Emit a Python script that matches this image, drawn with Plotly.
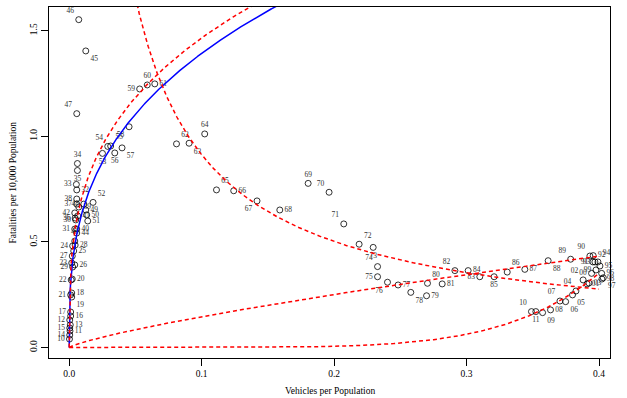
import numpy as np
import plotly.graph_objects as go

# ---------------- data ----------------
years = list(range(1910, 2012))
vehicles_per_pop = [
    0.0002, 0.0006, 0.0004, 0.0008, 0.0004, 0.0004, 0.0011, 0.0011, 0.0019, 0.0019,  # 1910-19
    0.0023, 0.0011, 0.0015, 0.0019, 0.0026, 0.0034, 0.0042, 0.0023, 0.0045, 0.0026,  # 1920-29
    0.0049, 0.0042, 0.0057, 0.0054, 0.0062, 0.0062, 0.0045, 0.0057, 0.0057, 0.0072,  # 1930-39
    0.0057, 0.0064, 0.0042, 0.0042, 0.0057, 0.0125, 0.0072, 0.0057, 0.0110, 0.0125,  # 1940-49
    0.0132, 0.0140, 0.0180, 0.0251, 0.0291, 0.0313, 0.0344, 0.0399, 0.0452, 0.0532,  # 1950-59
    0.0589, 0.0646, 0.0810, 0.0905, 0.1023, 0.1112, 0.1242, 0.1418, 0.1590, 0.1804,  # 1960-69
    0.1962, 0.2073, 0.2189, 0.2295, 0.2328, 0.2328, 0.2403, 0.2483, 0.2579, 0.2698,  # 1970-79
    0.2705, 0.2816, 0.2912, 0.3100, 0.3012, 0.3208, 0.3307, 0.3440, 0.3616, 0.3786,  # 1980-89
    0.3931, 0.3954, 0.3956, 0.3969, 0.3992, 0.4007, 0.4020, 0.4032, 0.4022, 0.3977,  # 1990-99
    0.3944, 0.3910, 0.3880, 0.3924, 0.3826, 0.3800, 0.3748, 0.3705, 0.3634, 0.3574,  # 2000-09
    0.3490, 0.3523,                                                                    # 2010-11
]
fatalities_per_10k = [
    0.040, 0.078, 0.130, 0.107, 0.059, 0.092, 0.149, 0.168, 0.258, 0.239,
    0.324, 0.249, 0.320, 0.400, 0.481, 0.457, 0.391, 0.433, 0.485, 0.381,
    0.604, 0.561, 0.746, 0.772, 0.871, 0.838, 0.613, 0.679, 0.703, 0.665,
    0.561, 0.623, 0.637, 0.504, 0.542, 1.404, 1.552, 1.107, 0.679, 0.651,
    0.628, 0.599, 0.687, 0.919, 0.952, 0.954, 0.921, 0.945, 1.045, 1.224,
    1.243, 1.248, 0.964, 0.967, 1.011, 0.746, 0.742, 0.694, 0.651, 0.777,
    0.735, 0.585, 0.489, 0.474, 0.383, 0.335, 0.309, 0.296, 0.261, 0.245,
    0.304, 0.301, 0.364, 0.335, 0.364, 0.335, 0.357, 0.370, 0.411, 0.418,
    0.433, 0.405, 0.435, 0.405, 0.405, 0.386, 0.351, 0.330, 0.324, 0.367,
    0.351, 0.301, 0.320, 0.305, 0.2675, 0.249, 0.217, 0.220, 0.178, 0.165,
    0.170, 0.170,
]
year_labels = [f"{y % 100:02d}" for y in years]

x_ticks = [0.0, 0.1, 0.2, 0.3, 0.4]
x_tick_labels = ["0.0", "0.1", "0.2", "0.3", "0.4"]
y_ticks = [0.0, 0.5, 1.0, 1.5]
y_tick_labels = ["0.0", "0.5", "1.0", "1.5"]

# model curves  y = a * x ** b
smeed_a, smeed_b = 3.0, 1.0 / 3.0
fitted_curves = [(2.976, 0.3076), (0.1254, -0.862), (0.888, 0.785), (85.8, 6.0)]

# ---------------- label placement (style) ----------------
pos_map = {
    1910: "middle left", 1911: "middle right", 1912: "middle left", 1913: "middle right",
    1914: "middle left", 1915: "middle left", 1916: "middle right", 1917: "middle left",
    1918: "middle right", 1919: "bottom right", 1920: "middle right", 1921: "middle left",
    1922: "middle left", 1923: "middle left", 1924: "middle left", 1925: "middle right",
    1926: "middle right", 1927: "middle left", 1928: "middle right", 1929: "middle left",
    1930: "middle left", 1931: "middle left", 1932: "middle right", 1933: "middle left",
    1934: "top center", 1935: "bottom center", 1936: "middle left", 1937: "middle left",
    1938: "middle left", 1939: "middle right", 1940: "middle right", 1941: "middle right",
    1942: "middle left", 1943: "top center", 1944: "middle right", 1945: "bottom right",
    1946: "top left", 1947: "top left", 1948: "middle left", 1949: "middle right",
    1950: "middle right", 1951: "middle right", 1952: "top right", 1953: "bottom center",
    1954: "top left", 1955: "top right", 1956: "bottom center", 1957: "bottom right",
    1958: "bottom left", 1959: "middle left", 1960: "top center", 1961: "middle right",
    1962: "top right", 1963: "bottom right", 1964: "top center", 1965: "top right",
    1966: "middle right", 1967: "bottom left", 1968: "middle right", 1969: "top center",
    1970: "top left", 1971: "top left", 1972: "top right", 1973: "bottom center",
    1974: "top left", 1975: "middle left", 1976: "bottom left", 1977: "middle right",
    1978: "bottom right", 1979: "middle right", 1980: "top right", 1981: "middle right",
    1982: "top left", 1983: "middle left", 1984: "middle right", 1985: "bottom center",
    1986: "top right", 1987: "middle right", 1988: "bottom right", 1989: "top left",
    1990: "top left", 1991: "middle left", 1992: "middle right", 1993: "middle left",
    1994: "top right", 1995: "middle right", 1996: "middle right", 1997: "bottom right",
    1998: "middle right", 1999: "middle left", 2000: "middle left", 2001: "middle right",
    2002: "top left", 2003: "middle right", 2004: "top left", 2005: "bottom right",
    2006: "bottom right", 2007: "top left", 2008: "middle right", 2009: "bottom right",
    2010: "top left", 2011: "bottom center",
}
text_positions = [pos_map[y] for y in years]

FONT = "Liberation Serif"

fig = go.Figure()

fig.add_trace(go.Scatter(
    x=vehicles_per_pop, y=fatalities_per_10k, mode="markers+text",
    text=year_labels, textposition=text_positions,
    textfont=dict(family=FONT, size=7.5, color="#333333"),
    marker=dict(symbol="circle-open", size=6, color="black", line=dict(width=0.8)),
    cliponaxis=False, showlegend=False, hoverinfo="skip",
))

# Smeed's law (blue solid)
xs = np.linspace(0.0, 0.2, 800)
fig.add_trace(go.Scatter(x=xs, y=smeed_a * xs ** smeed_b, mode="lines",
                         line=dict(color="#0000ff", width=1.5), showlegend=False, hoverinfo="skip"))

# fitted power curves (red dashed)
for a, b in fitted_curves:
    if b < 0:
        xr = np.linspace(0.03, 0.40, 600)
    else:
        xr = np.linspace(0.0, 0.40, 600)
    fig.add_trace(go.Scatter(x=xr, y=a * xr ** b, mode="lines",
                             line=dict(color="#ff0000", width=1.5, dash="4px,3px"),
                             showlegend=False, hoverinfo="skip"))

axis_common = dict(showgrid=False, zeroline=False, showline=True, linecolor="black",
                   linewidth=1, mirror=True, ticks="outside", ticklen=7, tickwidth=1,
                   tickcolor="black", tickfont=dict(family=FONT, size=9.5, color="black"))

fig.update_layout(
    width=627, height=398,
    margin=dict(l=49, r=17, t=7, b=40),
    paper_bgcolor="white", plot_bgcolor="white",
    xaxis=dict(range=[-0.01526, 0.4083], tickvals=x_ticks, ticktext=x_tick_labels, **axis_common),
    yaxis=dict(range=[-0.0497, 1.612], tickvals=y_ticks, ticktext=y_tick_labels,
               tickangle=-90, **axis_common),
    annotations=[
        dict(text="Vehicles per Population", xref="paper", yref="paper", x=0.5, y=0,
             yshift=-33, showarrow=False, font=dict(family=FONT, size=9.5, color="black"),
             yanchor="middle"),
        dict(text="Fatalities per 10,000 Population", xref="paper", yref="paper", x=0, y=0.5,
             xshift=-37, textangle=-90, showarrow=False,
             font=dict(family=FONT, size=9.5, color="black"), xanchor="center"),
    ],
)

fig.write_html("out.html")
